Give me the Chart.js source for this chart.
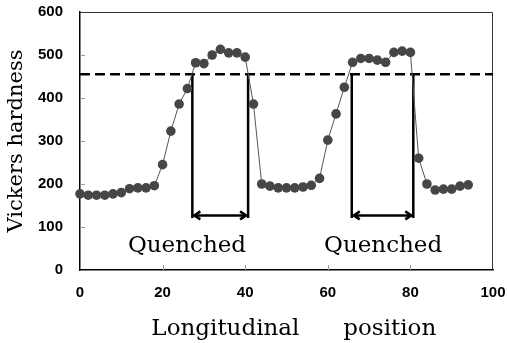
<!DOCTYPE html>
<html><head><meta charset="utf-8">
<script src="https://cdn.jsdelivr.net/npm/chart.js@4/dist/chart.umd.min.js"></script>
<style>html,body{margin:0;padding:0;background:#fff}#wrap{width:507px;height:343px}</style>
</head><body><div id="wrap"><canvas id="c"></canvas></div>
<script>
const positions = [0,2,4,6,8,10,12,14,16,18,20,22,24,26,28,30,32,34,36,38,40,42,44,46,48,50,
  52,54,56,58,60,62,64,66,68,70,72,74,76,78,80,82,84,86,88,90,92,94];
const hardness = [177,174,174,174,177,180,189,191,191,196,245,323,386,422,482,480,500,513,505,505,495,386,200,195,191,191,
  191,193,197,213,302,363,425,483,492,492,488,483,506,509,506,260,200,186,188,188,195,198];
const threshold = 455;
const zones = [[27.2,40.7],[65.8,80.7]];
const zoneBottom = 121;
const arrowLevel = 127;
const zoneLabel = 'Quenched';
const labelX = [25.9,73.4];
const labelY = 42;
const xTicks = [0,20,40,60,80,100];
const yTicks = [0,100,200,300,400,500,600];

const datasets = [{
  data: positions.map((p,i)=>({x:p,y:hardness[i]})),
  borderColor:'#555', borderWidth:1,
  pointRadius:4.8, pointBackgroundColor:'#464646', pointBorderWidth:0,
  clip:false, order:0
},{
  data:[{x:0,y:threshold},{x:100,y:threshold}],
  borderColor:'#000', borderWidth:2.5, borderDash:[10,5], pointRadius:0, order:1
}];
zones.forEach(z=>z.forEach(v=>datasets.push({
  data:[{x:v,y:threshold},{x:v,y:zoneBottom}],
  borderColor:'#000', borderWidth:2.5, pointRadius:0, order:1
})));

const annot = {
  id:'annot',
  beforeDatasetsDraw(chart){
    const {ctx, scales:{x,y}, chartArea:a} = chart;
    ctx.save();
    ctx.strokeStyle='#999'; ctx.lineWidth=1;
    ctx.beginPath();
    yTicks.slice(1,-1).forEach(v=>{const py=Math.round(y.getPixelForValue(v))+0.5; ctx.moveTo(a.left,py); ctx.lineTo(a.left+5,py);});
    xTicks.slice(1,-1).forEach(v=>{const px=Math.round(x.getPixelForValue(v))+0.5; ctx.moveTo(px,a.bottom); ctx.lineTo(px,a.bottom-5);});
    ctx.stroke();
    ctx.strokeStyle='#333';
    ctx.beginPath();
    ctx.moveTo(a.left,a.top+0.5); ctx.lineTo(a.right-0.5,a.top+0.5); ctx.lineTo(a.right-0.5,a.bottom);
    ctx.stroke();
    ctx.restore();
  },
  afterDatasetsDraw(chart){
    const {ctx, scales:{x,y}} = chart;
    ctx.save();
    ctx.strokeStyle='#000'; ctx.lineWidth=2.5; ctx.lineJoin='miter';
    zones.forEach(([a,b])=>{
      const p0=x.getPixelForValue(a)+2, p1=x.getPixelForValue(b)-2, py=y.getPixelForValue(arrowLevel);
      ctx.beginPath(); ctx.moveTo(p0,py); ctx.lineTo(p1,py); ctx.stroke();
      ctx.beginPath(); ctx.moveTo(p0+6,py-4); ctx.lineTo(p0,py); ctx.lineTo(p0+6,py+4); ctx.stroke();
      ctx.beginPath(); ctx.moveTo(p1-6,py-4); ctx.lineTo(p1,py); ctx.lineTo(p1-6,py+4); ctx.stroke();
    });
    ctx.fillStyle='#000'; ctx.font='23px "DejaVu Serif"'; ctx.textAlign='center'; ctx.textBaseline='alphabetic';
    labelX.forEach(lx=>ctx.fillText(zoneLabel, x.getPixelForValue(lx), y.getPixelForValue(labelY)));
    ctx.restore();
  }
};

new Chart(document.getElementById('c'), {
  type:'line',
  data:{datasets},
  options:{
    responsive:true, maintainAspectRatio:false, animation:false,
    layout:{padding:{top:12,right:14,left:0,bottom:0}},
    plugins:{legend:{display:false}, tooltip:{enabled:false}},
    scales:{
      x:{type:'linear', min:0, max:100,
        afterBuildTicks:s=>{s.ticks=xTicks.map(v=>({value:v}));},
        afterFit:s=>{s.height=73; s.paddingRight=0; s.paddingLeft=0;},
        grid:{display:true, drawOnChartArea:false, drawTicks:false},
        border:{color:'#000', width:1.5},
        ticks:{padding:14, color:'#000', font:{family:'"Liberation Sans"', size:15, weight:'bold'}, maxRotation:0},
        title:{display:true, text:'  Longitudinal      position', color:'#000', font:{family:'"DejaVu Serif"', size:23}, padding:{top:0,bottom:0}}
      },
      y:{type:'linear', min:0, max:600,
        afterBuildTicks:s=>{s.ticks=yTicks.map(v=>({value:v}));},
        afterFit:s=>{s.width=80; s.paddingTop=0; s.paddingBottom=0;},
        grid:{display:true, drawOnChartArea:false, drawTicks:false},
        border:{color:'#000', width:1.5},
        ticks:{padding:17, color:'#000', font:{family:'"Liberation Sans"', size:15, weight:'bold'}},
        title:{display:true, text:'Vickers hardness', color:'#000', font:{family:'"DejaVu Serif"', size:21}, padding:{top:4,bottom:0}}
      }
    }
  },
  plugins:[annot]
});
</script></body></html>
